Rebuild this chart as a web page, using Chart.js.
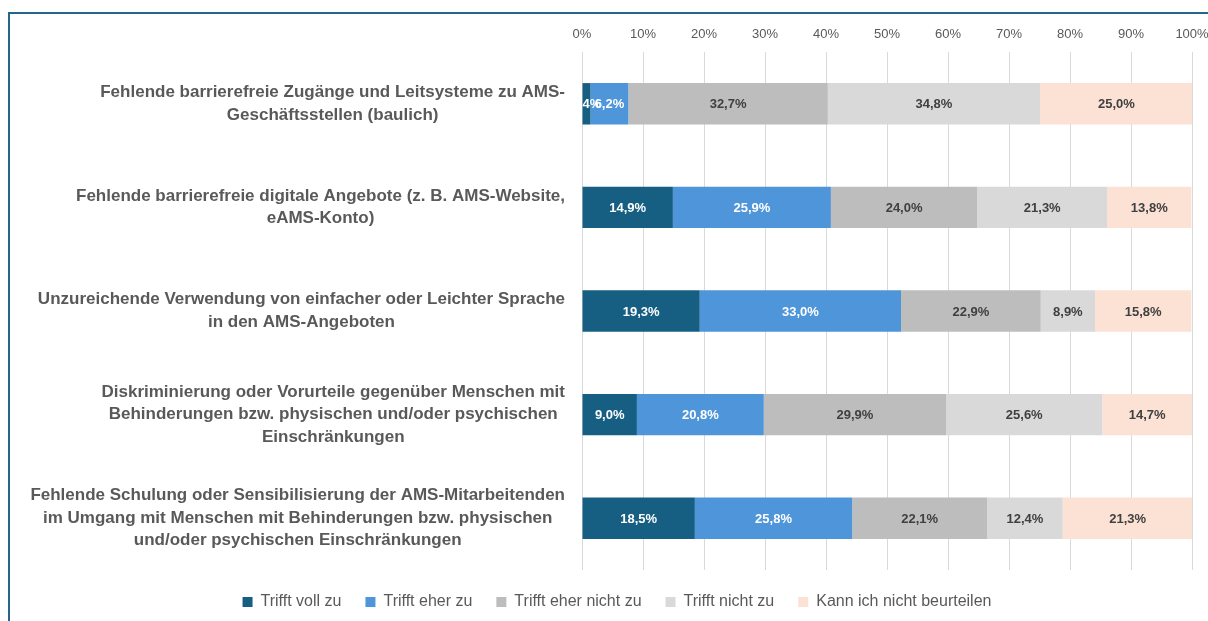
<!DOCTYPE html>
<html>
<head>
<meta charset="utf-8">
<script src="https://cdn.jsdelivr.net/npm/chart.js@4.4.1/dist/chart.umd.min.js"></script>
<style>
  html, body { margin: 0; padding: 0; background: #fff; overflow: hidden; }
  #wrap { width: 1208px; height: 621px; overflow: hidden; position: relative; }
</style>
</head>
<body>
<div id="wrap"><canvas id="chart" width="1230" height="621"></canvas></div>
<script>
const categories = [
  ['Fehlende barrierefreie Zugänge und Leitsysteme zu AMS-', 'Geschäftsstellen (baulich)'],
  ['Fehlende barrierefreie digitale Angebote (z. B. AMS-Website,', 'eAMS-Konto)'],
  ['Unzureichende Verwendung von einfacher oder Leichter Sprache', 'in den AMS-Angeboten'],
  ['Diskriminierung oder Vorurteile gegenüber Menschen mit', 'Behinderungen bzw. physischen und/oder psychischen', 'Einschränkungen'],
  ['Fehlende Schulung oder Sensibilisierung der AMS-Mitarbeitenden', 'im Umgang mit Menschen mit Behinderungen bzw. physischen', 'und/oder psychischen Einschränkungen']
];
const seriesNames = ['Trifft voll zu', 'Trifft eher zu', 'Trifft eher nicht zu', 'Trifft nicht zu', 'Kann ich nicht beurteilen'];
const trifftVollZu = [1.4, 14.9, 19.3, 9.0, 18.5];
const trifftEherZu = [6.2, 25.9, 33.0, 20.8, 25.8];
const trifftEherNichtZu = [32.7, 24.0, 22.9, 29.9, 22.1];
const trifftNichtZu = [34.8, 21.3, 8.9, 25.6, 12.4];
const kannNichtBeurteilen = [25.0, 13.8, 15.8, 14.7, 21.3];

const colors = ['#175f82', '#4f95d9', '#bdbdbd', '#d9d9d9', '#fbe2d5'];
const labelColors = ['#ffffff', '#ffffff', '#404040', '#404040', '#404040'];
const seriesData = [trifftVollZu, trifftEherZu, trifftEherNichtZu, trifftNichtZu, kannNichtBeurteilen];

const labelFont = '"Liberation Sans", Arial, sans-serif';

// outer frame of the chart object
const framePlugin = {
  id: 'frame',
  beforeDraw(chart) {
    const ctx = chart.ctx;
    ctx.save();
    ctx.strokeStyle = '#24658c';
    ctx.lineWidth = 2;
    ctx.strokeRect(9, 13, 1400, 800);
    ctx.restore();
  }
};

// category labels: block right-aligned to the axis, lines centered in block
const categoryPlugin = {
  id: 'categoryLabels',
  afterDraw(chart) {
    const ctx = chart.ctx;
    const y = chart.scales.y;
    ctx.save();
    ctx.font = 'bold 17px ' + labelFont;
    ctx.fillStyle = '#595959';
    ctx.textAlign = 'center';
    ctx.textBaseline = 'middle';
    categories.forEach((lines, i) => {
      const w = Math.max(...lines.map(l => ctx.measureText(l).width));
      const cx = 565 - w / 2;
      const cy = y.getPixelForValue(i);
      const lh = 22.5;
      lines.forEach((l, k) => {
        ctx.fillText(l, cx, cy + (k - (lines.length - 1) / 2) * lh);
      });
    });
    ctx.restore();
  }
};

// value labels in the middle of each segment
const valuePlugin = {
  id: 'valueLabels',
  afterDatasetsDraw(chart) {
    const ctx = chart.ctx;
    ctx.save();
    ctx.font = 'bold 13px ' + labelFont;
    ctx.textAlign = 'center';
    ctx.textBaseline = 'middle';
    chart.data.datasets.forEach((ds, di) => {
      const meta = chart.getDatasetMeta(di);
      ctx.fillStyle = labelColors[di];
      meta.data.forEach((bar, i) => {
        const p = bar.getCenterPoint();
        ctx.fillText(ds.data[i].toFixed(1).replace('.', ',') + '%', p.x, p.y + 1);
      });
    });
    ctx.restore();
  }
};

new Chart(document.getElementById('chart'), {
  type: 'bar',
  data: {
    labels: categories.map(c => c.join(' ')),
    datasets: seriesNames.map((name, i) => ({
      label: name,
      data: seriesData[i],
      backgroundColor: colors[i],
      borderWidth: 0,
      barPercentage: 0.4,
      categoryPercentage: 1
    }))
  },
  options: {
    indexAxis: 'y',
    responsive: false,
    animation: false,
    layout: { padding: { left: 42, right: 38, top: 0, bottom: 1 } },
    scales: {
      x: {
        position: 'top',
        stacked: true,
        min: 0,
        max: 100,
        afterFit(scale) { scale.height = 52; },
        ticks: {
          stepSize: 10,
          padding: 10,
          color: '#595959',
          font: { family: labelFont, size: 13 },
          callback: v => v + '%'
        },
        grid: { color: '#d9d9d9', drawTicks: false },
        border: { display: false }
      },
      y: {
        stacked: true,
        afterFit(scale) { scale.width = 540; },
        ticks: { display: false },
        grid: { display: false },
        border: { display: false }
      }
    },
    plugins: {
      legend: {
        position: 'bottom',
        labels: {
          boxWidth: 10,
          boxHeight: 10,
          padding: 24,
          color: '#595959',
          font: { family: labelFont, size: 16 }
        }
      },
      tooltip: { enabled: false }
    }
  },
  plugins: [framePlugin, categoryPlugin, valuePlugin]
});
</script>
</body>
</html>
